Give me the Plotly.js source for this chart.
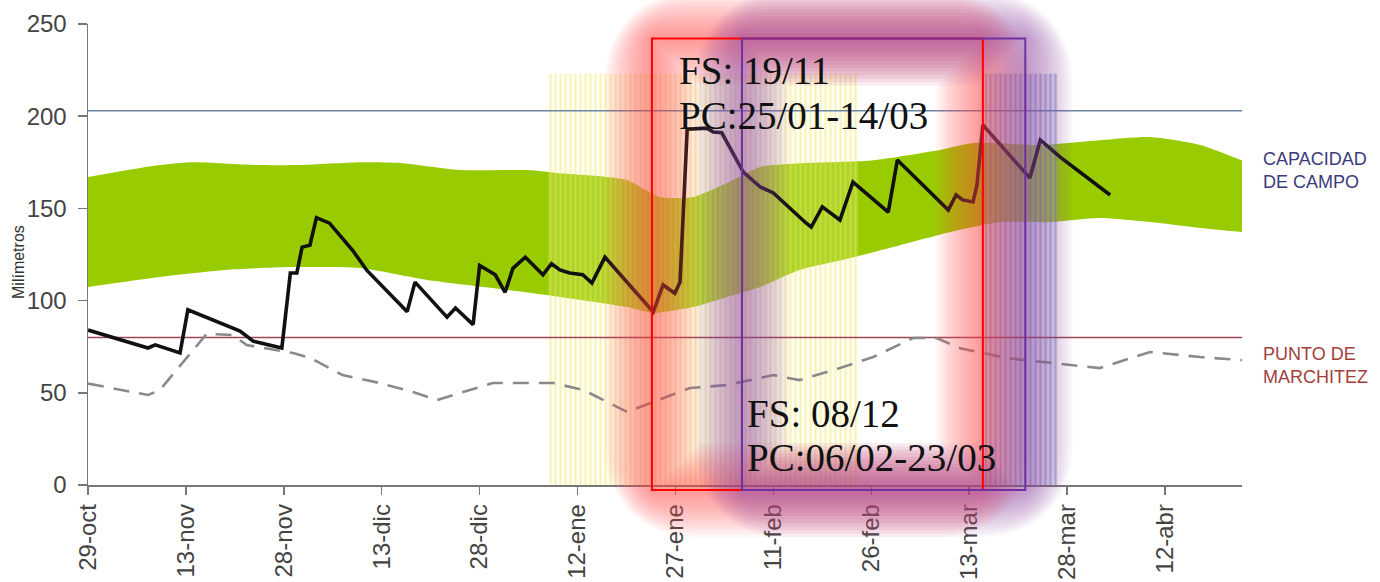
<!DOCTYPE html>
<html>
<head>
<meta charset="utf-8">
<script src="https://cdn.plot.ly/plotly-3.0.1.min.js"></script>
<style>
  html, body { margin: 0; padding: 0; background: #ffffff; }
  #chart { width: 1380px; height: 582px; }
</style>
</head>
<body>
<div id="chart"></div>
<script>
// ---- data (x = days since 29-oct) ----
const tickDays   = [0, 15, 30, 45, 60, 75, 90, 105, 120, 135, 150, 165];
const tickLabels = ["29-oct", "13-nov", "28-nov", "13-dic", "28-dic", "12-ene", "27-ene", "11-feb", "26-feb", "13-mar", "28-mar", "12-abr"];

// green band (range of optimum soil water)
const bandUpperDays = [0, 11, 16, 26, 32.5, 41.7, 47.8, 57, 67.3, 72.3, 79.5, 82.6, 87.6, 92.7, 97.9, 103, 110, 120, 130.5, 135.6, 145.9, 155, 162.7, 170.4, 176.8];
const bandUpper     = [167, 173.5, 175, 173.5, 173.5, 175, 174.6, 170.8, 170.8, 169, 167, 165.4, 156.2, 156.2, 163.8, 172.5, 174.6, 176, 181.7, 185.5, 184.4, 187, 188.7, 184.4, 176];
const bandLowerDays = [0, 11, 21, 31, 41.7, 52, 62, 72.3, 82.6, 86.6, 92.7, 97.9, 103, 109, 116.7, 124.4, 132, 139.7, 147.4, 155, 162.7, 170.4, 176.8];
const bandLower     = [107.4, 112.8, 116.6, 118.2, 117.7, 111.2, 106.8, 102, 96.5, 93.3, 96.5, 102, 107.4, 116.6, 123, 130, 137, 142.6, 142.6, 144.8, 142.6, 139.4, 137.2];

// soil water (black line)
const waterDays = [0, 9.2, 10.3, 14.1, 15.3, 23.3, 25.3, 29.7, 31, 32, 32.8, 34, 35, 37, 40.6, 42.7, 48.9, 50.1, 55, 56.3, 59, 60, 62.4, 63.9, 65.1, 67, 69.7, 71, 72.3, 73.8, 75.8, 77.2, 79.2, 86.6, 88.1, 89.9, 90.7, 91.8, 94.8, 95.8, 97.1, 100.4, 103, 105, 110, 110.8, 112.5, 115.2, 117.2, 122.6, 124, 131.8, 133, 134, 135.6, 136.2, 137.1, 144.3, 145.9, 148.9, 156.6];
const water     = [84, 74.3, 76, 71.6, 95, 83.5, 78, 74.3, 115, 115, 129, 130, 145, 142, 127, 116.5, 94, 110, 91, 96, 87, 119, 114, 104.5, 117.5, 123.5, 114, 120, 116.6, 115, 114, 109.5, 123.6, 93.8, 108.5, 104, 110, 193, 193.5, 191.4, 191, 169.7, 161.6, 158.4, 142.1, 139.9, 150.8, 143.7, 164.3, 148, 176.2, 149.1, 157.3, 154.6, 153.5, 162.7, 195.2, 166.5, 187.1, 177.9, 157.3];

// dashed grey line
const dashDays = [0, 9.2, 11, 18.2, 22.2, 24.3, 31.4, 34, 39, 44.7, 49.8, 53.5, 57, 62, 71.3, 75.9, 82.6, 92.2, 97.9, 105, 109, 115.2, 120.3, 126.4, 130, 133.6, 140.8, 147.4, 155, 162.7, 170.4, 176.8];
const dashVals = [55, 48.8, 51.5, 82, 81.3, 75.9, 71.6, 69, 59.6, 55.3, 50.4, 46.1, 49.9, 55.3, 55.3, 51.5, 39.6, 52.6, 54.2, 59.6, 56.9, 63.4, 69.4, 79.7, 79.7, 74.2, 68.8, 66.1, 63.4, 72.1, 69.4, 67.7];

// reference levels (mm)
const capacidadCampo = 203;
const puntoMarchitez = 80;

// hatched periods [startDay, endDay], top (mm)
const yellowPeriod = [70.5, 118];
const bluePeriod   = [137.4, 148.5];
const hatchTop     = 223;

// highlighted boxes [startDay, endDay, bottom mm, top mm]
const redBox    = [86.4, 137.1, -2.7, 242.1];
const purpleBox = [100.2, 143.6, -2.7, 242.1];

const XMAX = 176.8, YMAX = 250;
const PLOT_W = 1154, PLOT_H = 461;

// ---- traces ----
const traces = [];
traces.push({x: bandLowerDays, y: bandLower, mode: 'lines', line: {width: 0, shape: 'spline', smoothing: 0.6, color: 'rgba(0,0,0,0)'}, hoverinfo: 'skip'});
traces.push({x: bandUpperDays, y: bandUpper, mode: 'lines', fill: 'tonexty', fillcolor: '#99cc00', line: {width: 0, shape: 'spline', smoothing: 0.6, color: 'rgba(0,0,0,0)'}, hoverinfo: 'skip'});

function hatch(period, fg, bg) {
  return {
    x: [period[0], period[1], period[1], period[0], period[0]],
    y: [0, 0, hatchTop, hatchTop, 0],
    mode: 'lines', fill: 'toself', line: {width: 0, color: 'rgba(0,0,0,0)'},
    fillcolor: bg,
    fillpattern: {shape: '|', fgcolor: fg, bgcolor: bg, size: 5, solidity: 0.4},
    hoverinfo: 'skip'
  };
}
traces.push(hatch(yellowPeriod, 'rgba(238,226,90,0.42)', 'rgba(255,252,205,0.2)'));
traces.push(hatch(bluePeriod, 'rgba(90,115,195,0.42)', 'rgba(175,190,230,0.28)'));

traces.push({x: [0, XMAX], y: [capacidadCampo, capacidadCampo], mode: 'lines', line: {color: '#6f86a6', width: 1.5}, hoverinfo: 'skip'});
traces.push({x: [0, XMAX], y: [puntoMarchitez, puntoMarchitez], mode: 'lines', line: {color: '#9c4656', width: 1.5}, hoverinfo: 'skip'});

traces.push({x: dashDays, y: dashVals, mode: 'lines', line: {color: '#8a8a8a', width: 2.6, dash: '16px,10px'}, hoverinfo: 'skip'});
traces.push({x: waterDays, y: water, mode: 'lines', line: {color: '#111111', width: 3.6}, hoverinfo: 'skip'});

// ---- overlay shapes (paper coordinates computed from data units) ----
const px = d => d / XMAX;
const py = v => v / YMAX;
function roundedRectPath(box, rPx) {
  const x0 = px(box[0]), x1 = px(box[1]), y0 = py(box[2]), y1 = py(box[3]);
  const rx = rPx / PLOT_W, ry = rPx / PLOT_H;
  return 'M' + (x0 + rx) + ',' + y1 +
    ' L' + (x1 - rx) + ',' + y1 + ' Q' + x1 + ',' + y1 + ' ' + x1 + ',' + (y1 - ry) +
    ' L' + x1 + ',' + (y0 + ry) + ' Q' + x1 + ',' + y0 + ' ' + (x1 - rx) + ',' + y0 +
    ' L' + (x0 + rx) + ',' + y0 + ' Q' + x0 + ',' + y0 + ' ' + x0 + ',' + (y0 + ry) +
    ' L' + x0 + ',' + (y1 - ry) + ' Q' + x0 + ',' + y1 + ' ' + (x0 + rx) + ',' + y1 + ' Z';
}
function glow(box, rgb) {
  const out = [];
  for (let w = 94; w >= 8; w -= 7) {
    out.push({
      type: 'path', xref: 'paper', yref: 'paper', layer: 'above',
      path: roundedRectPath(box, w / 2),
      line: {color: 'rgba(' + rgb + ',0.055)', width: w},
      fillcolor: 'rgba(0,0,0,0)'
    });
  }
  return out;
}
function outline(box, color) {
  return {
    type: 'rect', xref: 'paper', yref: 'paper', layer: 'above',
    x0: px(box[0]), x1: px(box[1]), y0: py(box[2]), y1: py(box[3]),
    line: {color: color, width: 2}, fillcolor: 'rgba(0,0,0,0)'
  };
}
const shapes = [].concat(
  glow(redBox, '255,70,70'),
  glow(purpleBox, '140,70,170'),
  [outline(redBox, '#ff0000'), outline(purpleBox, '#7030a0')]
);

// ---- annotations ----
const serif = {family: 'Liberation Serif, Times New Roman, serif', size: 39, color: '#111111'};
const annotations = [
  {text: 'FS: 19/11',      xref: 'paper', yref: 'paper', x: (677 - 88) / 1154, y: (485 - 70) / 461,  xanchor: 'left', yanchor: 'middle', showarrow: false, font: serif},
  {text: 'PC:25/01-14/03', xref: 'paper', yref: 'paper', x: (677 - 88) / 1154, y: (485 - 115) / 461, xanchor: 'left', yanchor: 'middle', showarrow: false, font: serif},
  {text: 'FS: 08/12',      xref: 'paper', yref: 'paper', x: (745 - 88) / 1154, y: (485 - 413) / 461, xanchor: 'left', yanchor: 'middle', showarrow: false, font: serif},
  {text: 'PC:06/02-23/03', xref: 'paper', yref: 'paper', x: (745 - 88) / 1154, y: (485 - 457) / 461, xanchor: 'left', yanchor: 'middle', showarrow: false, font: serif},
  {text: 'CAPACIDAD<br>DE CAMPO', xref: 'paper', yref: 'paper', x: (1261 - 88) / 1154, y: (485 - 170) / 461, xanchor: 'left', yanchor: 'middle', align: 'left', showarrow: false,
   font: {family: 'Liberation Sans, Arial, sans-serif', size: 18, color: '#3b3b7c'}},
  {text: 'PUNTO DE<br>MARCHITEZ', xref: 'paper', yref: 'paper', x: (1261 - 88) / 1154, y: (485 - 366) / 461, xanchor: 'left', yanchor: 'middle', align: 'left', showarrow: false,
   font: {family: 'Liberation Sans, Arial, sans-serif', size: 18, color: '#a3403c'}},
  {text: 'Milímetros', xref: 'paper', yref: 'paper', x: (18 - 88) / 1154, y: (485 - 262) / 461, xanchor: 'center', yanchor: 'middle', textangle: -90, showarrow: false,
   font: {family: 'Liberation Sans, Arial, sans-serif', size: 16, color: '#333333'}}
];

const tickFont = {family: 'Liberation Sans, Arial, sans-serif', size: 24, color: '#444444'};
const layout = {
  width: 1380, height: 582,
  margin: {l: 88, r: 138, t: 24, b: 97, pad: 0},
  paper_bgcolor: '#ffffff', plot_bgcolor: '#ffffff',
  showlegend: false, hovermode: false,
  xaxis: {
    range: [0, XMAX], tickmode: 'array', tickvals: tickDays, ticktext: tickLabels,
    tickangle: -90, ticks: 'outside', ticklen: 8, tickwidth: 1.5, tickcolor: '#777777',
    showline: true, linecolor: '#777777', linewidth: 1.5, showgrid: false, zeroline: false,
    tickfont: tickFont, fixedrange: true
  },
  yaxis: {
    range: [0, YMAX], tickmode: 'array', tickvals: [0, 50, 100, 150, 200, 250],
    ticks: 'outside', ticklen: 9, tickwidth: 1.5, tickcolor: '#777777', ticklabelstandoff: 6,
    showline: true, linecolor: '#777777', linewidth: 1.5, showgrid: false, zeroline: false,
    tickfont: tickFont, fixedrange: true
  },
  shapes: shapes,
  annotations: annotations
};

Plotly.newPlot('chart', traces, layout, {displayModeBar: false, staticPlot: true});
</script>
</body>
</html>
